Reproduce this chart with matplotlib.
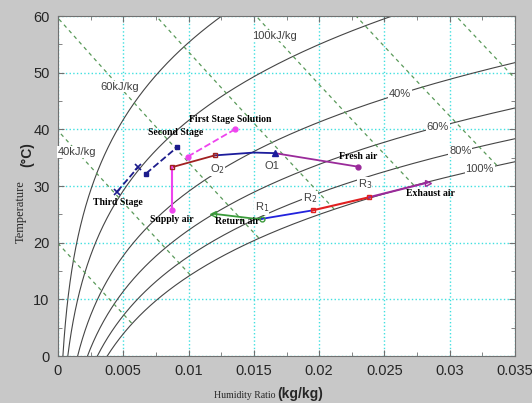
import matplotlib
matplotlib.use("Agg")
import matplotlib.pyplot as plt
import numpy as np

# psychrometric chart background
rh_levels = [0.1, 0.2, 0.4, 0.6, 0.8, 1.0]
rh_labels = {0.4: "40%", 0.6: "60%", 0.8: "80%", 1.0: "100%"}
rh_label_w = {0.4: 0.0262, 0.6: 0.0291, 0.8: 0.0308, 1.0: 0.0323}
h_levels = [20, 40, 60, 80, 100, 120, 140]
h_labels = {40: "40kJ/kg", 60: "60kJ/kg", 100: "100kJ/kg"}
h_label_T = {40: 36.0, 60: 47.5, 100: 56.5}

# process points (humidity ratio kg/kg, temperature C)
fresh_w, fresh_T = [0.0230, 0.0166], [33.4, 35.8]
o1o2_w, o1o2_T = [0.0166, 0.0150, 0.0120], [35.8, 35.9, 35.4]
o2s_w, o2s_T = [0.0120, 0.0087], [35.4, 33.3]
supply_w, supply_T = [0.0087, 0.0087], [33.3, 25.8]
return_w, return_T = [0.0119, 0.0148, 0.0156], [25.1, 24.3, 24.2]
r1r2_w, r1r2_T = [0.0156, 0.0195], [24.2, 25.7]
r2r3_w, r2r3_T = [0.0195, 0.0238], [25.7, 28.0]
exh_w, exh_T = [0.0238, 0.0283], [28.0, 30.6]
stage1_w, stage1_T = [0.00995, 0.01355], [35.2, 40.0]
stage2_w, stage2_T = [0.00674, 0.0091], [32.2, 36.8]
stage3_w, stage3_T = [0.00452, 0.00613], [29.0, 33.3]

P = 101.325


def psat(T):
    return 0.61094 * np.exp(17.625 * T / (T + 243.04))


def w_rh(phi, T):
    pv = phi * psat(T)
    return 0.622 * pv / (P - pv)


def T_from_rh(phi, w):
    pv = w * P / (0.622 + w)
    ps = pv / phi
    a = np.log(ps / 0.61094)
    return 243.04 * a / (17.625 - a)


fig = plt.figure(figsize=(5.32, 4.03), dpi=100, facecolor="#c8c8c8")
ax = fig.add_axes([58 / 532, 1 - 356 / 403, 457 / 532, 340 / 403])
ax.set_facecolor("white")

# grid
ax.set_xlim(0, 0.035)
ax.set_ylim(0, 60)
ax.set_xticks(np.arange(0, 0.0351, 0.005))
ax.set_xticklabels(["0", "0.005", "0.01", "0.015", "0.02", "0.025", "0.03", "0.035"])
ax.set_yticks(np.arange(0, 61, 10))
ax.set_xticks(np.arange(0, 0.0351, 0.0025), minor=True)
ax.set_yticks(np.arange(0, 61, 5), minor=True)
ax.grid(True, which="major", color="#40e0e0", linestyle=":", linewidth=1.0)
ax.tick_params(which="both", direction="in", top=True, right=True,
               color="#707070", labelsize=10.5, labelcolor="#262626", pad=6)
ax.tick_params(which="major", length=4)
ax.tick_params(which="minor", length=3)
for s in ax.spines.values():
    s.set_color("#707070")
for lab in ax.get_xticklabels() + ax.get_yticklabels():
    lab.set_family("Liberation Sans")

# relative humidity curves
T = np.linspace(0, 60, 400)
for phi in rh_levels:
    ax.plot(w_rh(phi, T), T, color="#454545", lw=0.8, zorder=2)
    if phi in rh_labels:
        wl = rh_label_w[phi]
        ax.text(wl, T_from_rh(phi, wl), rh_labels[phi], fontsize=8,
                family="Liberation Sans", color="#404040", ha="center",
                va="center", zorder=3,
                bbox=dict(facecolor="white", edgecolor="none", pad=0.5))

# enthalpy lines, stopped at the saturation curve
for h in h_levels:
    Th = np.linspace(0, 60, 600)
    wh = (h - 1.006 * Th) / (2501 + 1.86 * Th)
    ok = (wh >= 0) & (wh <= w_rh(1.0, Th))
    ax.plot(wh[ok], Th[ok], color="#5a9a5a", lw=0.9, ls=(0, (3, 3)), zorder=2)
    if h in h_labels:
        tl = h_label_T[h]
        wl = (h - 1.006 * tl) / (2501 + 1.86 * tl)
        ax.text(wl, tl, h_labels[h], fontsize=8, family="Liberation Sans",
                color="#404040", ha="center", va="center", zorder=3,
                bbox=dict(facecolor="white", edgecolor="none", pad=0.5))

# air processes
ax.plot(fresh_w, fresh_T, color="#9a2a9a", lw=1.3, zorder=4)
ax.plot(fresh_w[0], fresh_T[0], "o", color="#9a2a9a", ms=3.5, zorder=5)
ax.plot(o1o2_w, o1o2_T, color="#1c1c9c", lw=1.3, zorder=4)
ax.plot(o1o2_w[0], o1o2_T[0], "^", color="#1c1c9c", ms=4, zorder=5)
ax.plot(o2s_w, o2s_T, color="#a02020", lw=1.3, zorder=4)
ax.plot(o2s_w, o2s_T, "s", mfc="none", mec="#a02020", ms=3.5, zorder=5)
ax.plot(supply_w, supply_T, color="#ee44ee", lw=1.5, zorder=4)
ax.plot(supply_w[1], supply_T[1], "o", color="#ee44ee", ms=3.5, zorder=5)
ax.plot(return_w, return_T, color="#3a9a3a", lw=1.3, zorder=4)
ax.plot(return_w[0], return_T[0], "<", mfc="none", mec="#3a9a3a", ms=4, zorder=5)
ax.plot(return_w[-1], return_T[-1], "o", mfc="none", mec="#3a9a3a", ms=3.5, zorder=5)
ax.plot(r1r2_w, r1r2_T, color="#2222dd", lw=1.3, zorder=4)
ax.plot(r2r3_w, r2r3_T, color="#e02020", lw=1.5, zorder=4)
ax.plot(r2r3_w, r2r3_T, "s", mfc="none", mec="#e02020", ms=3.5, zorder=5)
ax.plot(exh_w, exh_T, color="#9a2a9a", lw=1.5, zorder=4)
ax.plot(exh_w[1], exh_T[1], ">", mfc="none", mec="#9a2a9a", ms=4, zorder=5)

# desiccant solution stages
ax.plot(stage1_w, stage1_T, "--o", color="#ee44ee", lw=1.3, ms=3.5, zorder=4)
ax.plot(stage2_w, stage2_T, "--s", color="#1c1c8c", lw=1.3, ms=3.5, zorder=4)
ax.plot(stage3_w, stage3_T, "--x", color="#1c1c8c", lw=1.3, ms=4, mew=1.2, zorder=4)

# labels
bold = dict(fontsize=7, family="Liberation Serif", weight="bold", color="black", zorder=6)
ax.text(0.0132, 41.0, "First Stage Solution", ha="center", va="bottom", **bold)
ax.text(0.0090, 38.6, "Second Stage", ha="center", va="bottom", **bold)
ax.text(0.0046, 27.9, "Third Stage", ha="center", va="top", **bold)
ax.text(0.0087, 24.8, "Supply air", ha="center", va="top", **bold)
ax.text(0.0137, 24.5, "Return air", ha="center", va="top", **bold)
ax.text(0.0230, 34.4, "Fresh air", ha="center", va="bottom", **bold)
ax.text(0.0285, 29.4, "Exhaust air", ha="center", va="top", **bold)

pt = dict(fontsize=8, family="Liberation Sans", color="#404040", ha="center",
          va="center", zorder=3,
          bbox=dict(facecolor="white", edgecolor="none", pad=0.3))
ax.text(0.0122, 33.0, "O$_2$", **pt)
ax.text(0.0164, 33.6, "O1", **pt)
ax.text(0.0156, 26.2, "R$_1$", **pt)
ax.text(0.0193, 27.8, "R$_2$", **pt)
ax.text(0.0235, 30.3, "R$_3$", **pt)

# axis titles
fig.text(245 / 532, 1 - 395 / 403, "Humidity Ratio", fontsize=7,
         family="Liberation Serif", ha="center", va="center", color="#262626")
fig.text(300 / 532, 1 - 394 / 403, "(kg/kg)", fontsize=10, weight="bold",
         family="Liberation Sans", ha="center", va="center", color="#262626")
fig.text(21 / 532, 1 - 212 / 403, "Temperature", fontsize=9, rotation=90,
         family="Liberation Serif", ha="center", va="center", color="#262626")
fig.text(27 / 532, 1 - 155 / 403, "(°C)", fontsize=10, weight="bold", rotation=90,
         family="Liberation Sans", ha="center", va="center", color="#262626")

fig.savefig("out.png", dpi=100, facecolor=fig.get_facecolor())
